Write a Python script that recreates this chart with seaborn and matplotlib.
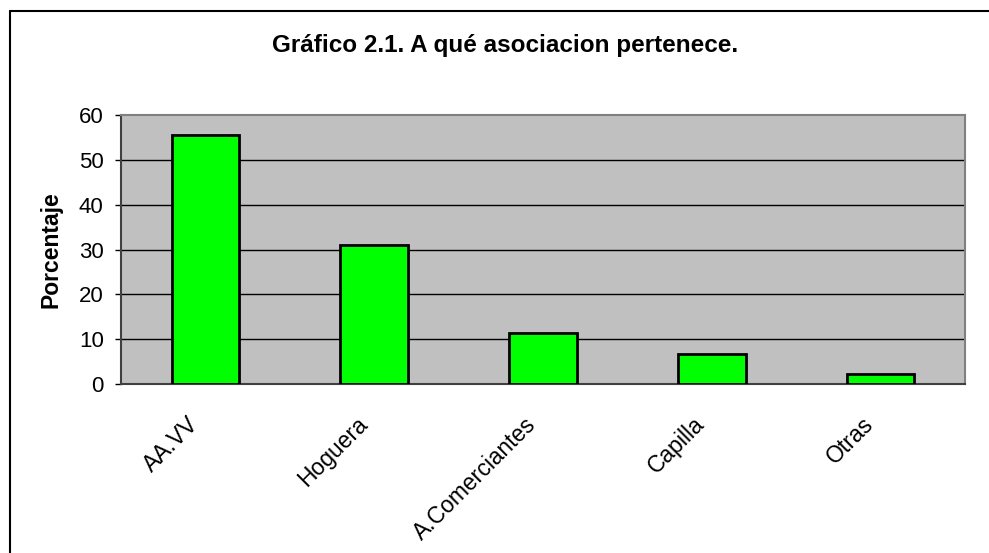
import matplotlib
matplotlib.use("Agg")
import matplotlib.pyplot as plt
import matplotlib.transforms as mtransforms
import seaborn as sns
import pandas as pd
from matplotlib.lines import Line2D

categories = ["AA.VV", "Hoguera", "A.Comerciantes", "Capilla", "Otras"]
values = [55.5, 31.0, 11.3, 6.6, 2.2]
yticks = [0, 10, 20, 30, 40, 50, 60]

df = pd.DataFrame({"cat": categories, "val": values})

sns.set_style("white")
plt.rcParams["font.family"] = ["Liberation Sans", "DejaVu Sans"]
plt.rcParams["text.color"] = "black"
plt.rcParams["axes.labelcolor"] = "black"
plt.rcParams["xtick.color"] = "black"
plt.rcParams["ytick.color"] = "black"

fig = plt.figure(figsize=(9.89, 5.53), dpi=100)
fig.patch.set_facecolor("white")
ax = fig.add_axes([121/989, 1-384/553, 844/989, 269/553])
ax.set_facecolor("#C0C0C0")

sns.barplot(data=df, x="cat", y="val", ax=ax, color="#00FF00", width=0.4,
            edgecolor="black", linewidth=2, saturation=1, zorder=3)

ax.set_ylim(0, 60)
ax.set_xlim(-0.5, len(categories) - 0.5)
ax.set_yticks(yticks)
ax.set_yticklabels([str(t) for t in yticks], fontsize=16)
for t in yticks[1:-1]:
    ax.axhline(t, color="black", linewidth=1, zorder=1)

ax.set_xticks(range(len(categories)))
ax.set_xticklabels(categories, rotation=45, ha="right", va="center",
                   rotation_mode="anchor", fontsize=16.5)
ax.tick_params(axis="x", which="major", length=0, pad=26.5)
shift = mtransforms.ScaledTranslation(-7.5/72, 0, fig.dpi_scale_trans)
for lab in ax.get_xticklabels():
    lab.set_transform(lab.get_transform() + shift)
ax.set_xticks([i - 0.5 for i in range(len(categories) + 1)], minor=True)
ax.tick_params(axis="x", which="minor", length=6.5, width=1, color="black", direction="out")
ax.tick_params(axis="y", length=4.5, width=1, color="black", direction="out", left=True, pad=8)

for s in ["top", "right"]:
    ax.spines[s].set_color("#808080")
    ax.spines[s].set_linewidth(1.5)
for s in ["left", "bottom"]:
    ax.spines[s].set_color("#404040")
    ax.spines[s].set_linewidth(1.5)

ax.set_xlabel("")
ax.set_ylabel("Porcentaje", fontsize=16.5, fontweight="bold", labelpad=12)

fig.text(505/989, 1-52/553, "Gráfico 2.1. A qué asociacion pertenece.",
         ha="center", va="baseline", fontsize=17.5, fontweight="bold")

# outer chart-area frame (left and top edges visible)
fig.add_artist(Line2D([10/989, 10/989], [0, 1-11/553], transform=fig.transFigure,
                      color="black", linewidth=1.5))
fig.add_artist(Line2D([10/989, 1], [1-11/553, 1-11/553], transform=fig.transFigure,
                      color="black", linewidth=1.5))

fig.savefig("out.png", dpi=100)
